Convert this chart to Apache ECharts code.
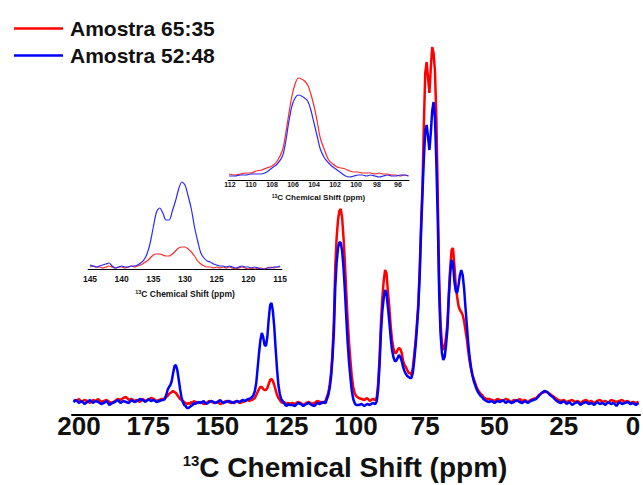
<!DOCTYPE html>
<html><head><meta charset="utf-8">
<script src="https://cdn.jsdelivr.net/npm/echarts@6/dist/echarts.min.js"></script>
<style>html,body{margin:0;padding:0;background:#fff}#c{width:643px;height:485px}</style>
</head><body><div id="c"></div>
<script>
// ---- main spectrum (13C chemical shift, ppm) ----
const mainShift = [
202,201,200,199,198,197,196,195,194,193,192,191,190,189,188,187,186,185,184,183,182,181,180,179,178,177,176,175,174,173,172,171,170,
169.5,169,168.5,168,167.5,167,166.5,166,165.5,165,164.5,164,163.5,163,162.5,162,161.5,161,160.5,160,159.5,159,158.5,158,
157,156,155,154,153,152,151,150,149,148,147,146,145,144,143,142,141,140,139,
138.5,138,137.5,137,136.5,136,135.5,135,134.5,134,133.5,133,132.5,132,131.5,131,130.5,130,129.5,129,128.5,128,127.5,127,126.5,126,125.5,125,124.5,124,
123,122,121,120,119,118,117,116,115,114,113,112,111,
110.5,110,109.5,109,108.5,108,107.5,107,106.5,106,105.5,105,104.5,104,103.5,103,102.5,102,101.5,101,100.5,100,
99,98,97,96,95,94,93,
92.5,92,91.5,91,90.5,90,89.5,89,88.5,88,87.5,87,86.5,86,85.5,85,84.5,84,83.5,83,82.5,82,81.5,81,80.5,80,79.5,79,78.5,78,
77.5,77,76.5,76,75.5,75,74.5,74,73.5,73,72.5,72,71.5,71,70.5,70,69.5,69,68.5,68,67.5,67,66.5,66,65.5,65,64.5,64,63.5,63,62.5,62,61.5,61,60.5,60,59.5,59,58.5,58,57.5,57,56.5,56,55.5,55,54.5,54,53.5,53,
52,51,50,49,48,47,46,45,44,43,42,41,40,39,38,37,36,35,34,33,32,31,30,29,28,27,26,25,24,23,22,21,20,19,18,17,16,15,14,13,12,11,10,9,8,7,6,5,4,3,2,1,0,-1,-2
];
const mainRed = [
3,2,4,1,3,2,0,3,2,4, 1,2,3,1,0,2,4,3,5,6, 3,4,2,3,1,4,2,3,5,4, 2,3,4,
4,5,6,7,9,10,11,12,11,10,8,6,4,3,2,1,0,-1,0,-1,1,0,2,1,
0,1,-1,0,2,1,0,1,-1,0,2,1,0,1,2,0,1,2,3,
2,3,3,4,5,8,11,14,16,16,14,13,13,15,19,23,24,22,18,13,8,5,3,1,0,1,0,-1,0,-1,
0,-1,1,0,-2,0,1,-1,0,2,1,0,2,
6,10,18,30,50,80,135,165,183,192,194,185,165,140,110,82,60,42,26,16,10,7,
5,4,3,5,2,4,3,
6,20,45,80,105,122,133,130,112,97,78,63,55,50,50,53,55,54,50,42,38,36,33,30,30,28,35,48,62,80,
100,135,180,218,280,330,341,325,310,335, 356,350,332,285,210,125,80,60,53,56, 66,80,110,135,153,155,138,118,106,97, 93,91,88,82,73,64,52,42,34,28, 24,20,16,13,11,9,8,6,5,4,
4,3,2,4,3,2,4,3,1,3, 2,4,2,3,1,3,4,5,8,10, 11,11,9,7,5,3,2,3,1,2, 3,1,2,0,2,3,1,2,0,2, 3,1,2,0,3,2,1,2,3,1, 2,0,1,0,1
];
const mainBlue = [
1,3,0,2,-1,1,3,0,2,1, -1,0,2,-2,0,1,3,0,2,1, 0,3,1,2,4,3,1,4,2,3, 1,2,3,
3,4,8,13,16,18,22,30,37,38,33,24,14,6,1,-2,-3,-5,-5,-4,-3,-2,0,-1,
1,0,2,-1,1,2,0,1,3,0,1,2,1,0,2,1,3,2,4,
4,5,6,8,12,20,35,50,63,70,66,58,57,66,84,98,100,92,76,54,34,18,9,4,2,0,-2,-3,-1,-2,
-2,-3,0,-1,-3,-1,0,-2,-3,0,-1,1,0,
4,8,15,26,44,70,115,140,155,161,160,152,135,112,85,60,40,25,12,4,0,-2,
-2,-1,-3,-1,-2,0,-1,
2,14,38,70,92,105,113,110,96,82,66,53,46,42,42,45,48,46,42,36,32,29,27,26,25,25,30,42,57,75,
96,128,172,210,245,272,278,266,253,270, 292,301,285,240,185,112,70,50,43,46, 58,74,105,130,143,140,122,112,110,118, 128,133,128,115,96,78,60,46,36,28, 22,18,14,11,9,7,6,4,3,2,
1,2,0,2,1,3,0,2,0,1, 3,1,0,2,0,2,3,4,7,10, 12,11,8,6,3,1,0,2,-1,1, -2,0,1,-2,0,1,-1,0,-2,1, -1,0,-2,1,-1,0,-3,1,-1,0, 1,-1,0,-2,0
];
const mainTicks = [200,175,150,125,100,75,50,25,0];

// ---- inset 1 (around 105 ppm) ----
const inset1Shift = [112.1,111.5,111,110.5,110,109.5,109,108.5,108,107.5, 107,106.7,106.4,106.1,105.8,105.5,105.2,104.9,104.6,104.3, 104,103.7,103.4,103,102.6,102.2,101.8,101.4,101,100.6, 100.2,99.8,99.4,99,98.6,98.2,97.8,97.4,97,96.6, 96.2,95.8,95.4,95];
const inset1Red = [2,1,2,3,3,5,6,8,10,15, 26,42,62,80,92,98,97,95,91,82, 70,55,38,26,16,12,9,8,7,5, 4,4,3,3,3,2,3,2,2,1, 1,0,1,0];
const inset1Blue = [0,0,1,1,2,2,2,4,8,12, 20,34,54,70,78,81,80,78,75,66, 53,40,27,18,13,9,6,3,0,-1, 0,1,1,0,1,0,-1,0,1,0, 0,1,1,0];
const inset1Ticks = [112,110,108,106,104,102,100,98,96];

// ---- inset 2 (around 130 ppm) ----
const inset2Shift = [145,144.5,144,143.5,143,142.5,142,141.5,141,140.5, 140,139.5,139,138.5,138,137.5,137,136.5,136,135.5, 135,134.5,134,133.5,133,132.5,132,131.5,131,130.5, 130,129.5,129,128.5,128,127.5,127,126.5,126,125.5, 125,124.5,124,123.5,123,122.5,122,121.5,121,120.5, 120,119.5,119,118.5,118,117.5,117,116.5,116,115.5, 115];
const inset2Red = [0,1,0,0,-1,0,1,0,-1,0, 0,-1,0,1,0,1,2,4,6,9, 12,13,13,12,11,11,13,16,19,20, 20,18,15,11,6,3,1,0,0,-1, 0,-1,0,-1,0,-1,-2,-1,0,-1, -2,-1,-2,-1,-1,-2,-1,0,-1,0, 0];
const inset2Blue = [2,1,0,1,2,3,4,1,-1,0, 1,0,0,1,1,2,4,7,13,24, 40,55,59,54,47,47,56,66,78,85, 82,71,58,40,26,14,9,6,5,3, 2,1,1,0,1,0,-1,0,1,0, 0,-1,0,-1,-2,-2,-1,-1,0,0, 1];
const inset2Ticks = [145,140,135,130,125,120,115];

const seriesNames = ['Amostra 65:35', 'Amostra 52:48'];
const FONT = 'Liberation Sans, Arial, Helvetica, sans-serif';
const RED = '#ff0000', BLUE = '#0000ff';

const pairs = (xs, ys) => xs.map((x, i) => [x, ys[i]]);

function titleName(sup, main, padTop) {
  return {
    name: '{s|13}{t|C Chemical Shift (ppm)}',
    rich: {
      s: { fontSize: sup, fontWeight: 'bold', fontFamily: FONT, color: '#111', verticalAlign: 'top', padding: [0, 0, padTop, 0] },
      t: { fontSize: main, fontWeight: 'bold', fontFamily: FONT, color: '#111' }
    }
  };
}

const chart = echarts.init(document.getElementById('c'), null, { renderer: 'svg' });
const mainT = titleName(15, 28, 13);
const i1T = titleName(5, 8, 3);
const i2T = titleName(5.5, 8.5, 3);

chart.setOption({
  animation: false,
  backgroundColor: '#fff',
  legend: {
    data: seriesNames,
    orient: 'vertical', left: 9, top: 13,
    icon: 'rect',
    itemWidth: 49, itemHeight: 2.5, itemGap: 6,
    textStyle: { fontSize: 21, fontWeight: 'bold', color: '#111', fontFamily: FONT, lineHeight: 20, padding: [0, 0, 0, 2] }
  },
  grid: [
    { left: 72, right: 3, top: 3, bottom: 70, outerBoundsMode: 'none', containLabel: false },
    { left: 228, width: 181, top: 70, bottom: 305, outerBoundsMode: 'none', containLabel: false },
    { left: 88.1, width: 193.8, top: 175, bottom: 216, outerBoundsMode: 'none', containLabel: false }
  ],
  xAxis: [
    {
      gridIndex: 0, type: 'value', inverse: true, min: -2.5, max: 202.5,
      axisLine: { onZero: false, lineStyle: { color: '#000', width: 2 } },
      axisTick: { show: false },
      splitLine: { show: false },
      axisLabel: { customValues: mainTicks, margin: -2, fontSize: 26, fontWeight: 'bold', color: '#111', fontFamily: FONT },
      name: mainT.name, nameLocation: 'middle', nameGap: 38,
      nameTextStyle: { rich: mainT.rich, padding: [0, 22, 0, 0] }
    },
    {
      gridIndex: 1, type: 'value', inverse: true, min: 94.95, max: 112.19,
      axisLine: { onZero: false, lineStyle: { color: '#000', width: 1 } },
      axisTick: { show: false }, splitLine: { show: false },
      axisLabel: { customValues: inset1Ticks, margin: 1, fontSize: 7, fontWeight: 'bold', color: '#111', fontFamily: FONT },
      name: i1T.name, nameLocation: 'middle', nameGap: 13,
      nameTextStyle: { rich: i1T.rich }
    },
    {
      gridIndex: 2, type: 'value', inverse: true, min: 114.7, max: 145.3,
      axisLine: { onZero: false, lineStyle: { color: '#000', width: 1 } },
      axisTick: { show: false }, splitLine: { show: false },
      axisLabel: { customValues: inset2Ticks, margin: 5, fontSize: 8.5, fontWeight: 'bold', color: '#111', fontFamily: FONT },
      name: i2T.name, nameLocation: 'middle', nameGap: 20,
      nameTextStyle: { rich: i2T.rich }
    }
  ],
  yAxis: [
    { gridIndex: 0, type: 'value', min: -12, max: 400, show: false },
    { gridIndex: 1, type: 'value', min: -4, max: 106, show: false },
    { gridIndex: 2, type: 'value', min: -2, max: 92, show: false }
  ],
  series: [
    { name: seriesNames[0], type: 'line', xAxisIndex: 0, yAxisIndex: 0, symbol: 'none', color: RED,
      lineStyle: { color: RED, width: 2.5 }, data: pairs(mainShift, mainRed), z: 2 },
    { name: seriesNames[1], type: 'line', xAxisIndex: 0, yAxisIndex: 0, symbol: 'none', color: BLUE,
      lineStyle: { color: BLUE, width: 2.5 }, data: pairs(mainShift, mainBlue), z: 3 },
    { name: 'inset1-65:35', type: 'line', xAxisIndex: 1, yAxisIndex: 1, symbol: 'none', smooth: 0.3,
      lineStyle: { color: '#ff2a2a', width: 1.2 }, data: pairs(inset1Shift, inset1Red), z: 4 },
    { name: 'inset1-52:48', type: 'line', xAxisIndex: 1, yAxisIndex: 1, symbol: 'none', smooth: 0.3,
      lineStyle: { color: '#2a2aff', width: 1.2 }, data: pairs(inset1Shift, inset1Blue), z: 4 },
    { name: 'inset2-65:35', type: 'line', xAxisIndex: 2, yAxisIndex: 2, symbol: 'none', smooth: 0.3,
      lineStyle: { color: '#ff2a2a', width: 1.2 }, data: pairs(inset2Shift, inset2Red), z: 4 },
    { name: 'inset2-52:48', type: 'line', xAxisIndex: 2, yAxisIndex: 2, symbol: 'none', smooth: 0.3,
      lineStyle: { color: '#2a2aff', width: 1.2 }, data: pairs(inset2Shift, inset2Blue), z: 4 }
  ]
});
</script></body></html>
